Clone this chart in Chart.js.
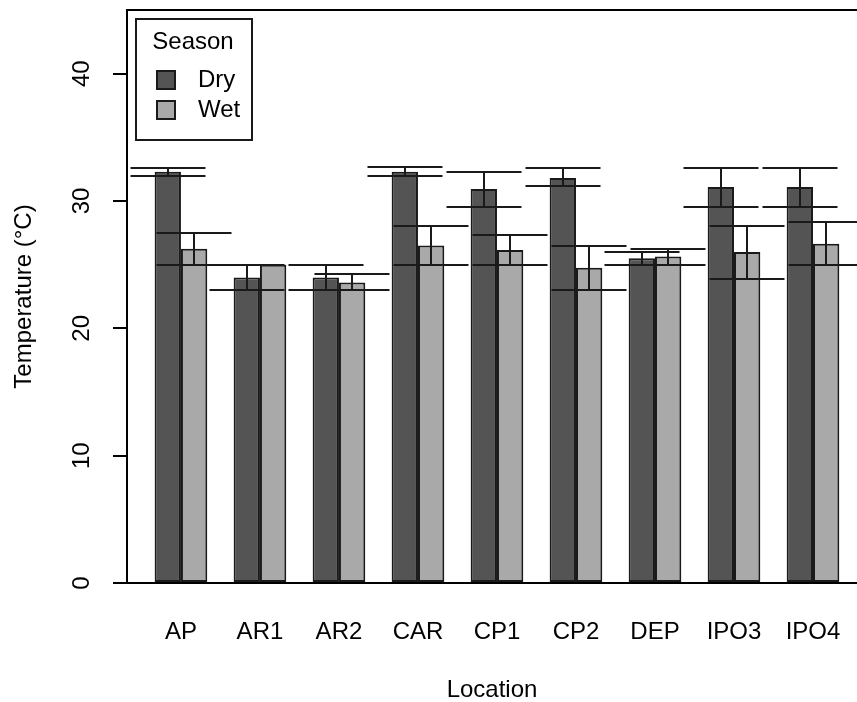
<!DOCTYPE html>
<html>
<head>
<meta charset="utf-8">
<script src="https://cdn.jsdelivr.net/npm/chart.js@4"></script>
<style>
    html, body { margin: 0; padding: 0; background: #fff; overflow: hidden; }
</style>
</head>
<body>
<canvas id="temps" width="857" height="702"></canvas>
<script>
// data (mean temperature and range per location)
var locations = ["AP", "AR1", "AR2", "CAR", "CP1", "CP2", "DEP", "IPO3", "IPO4"];
var dryMean = [32.3, 24.0, 24.0, 32.3, 30.95, 31.8, 25.5, 31.1, 31.1];
var dryLow = [32.0, 23.0, 23.0, 32.0, 29.55, 31.2, 25.0, 29.55, 29.55];
var dryHigh = [32.6, 25.0, 25.0, 32.7, 32.3, 32.6, 26.0, 32.6, 32.6];
var wetMean = [26.25, 25.0, 23.6, 26.5, 26.15, 24.75, 25.65, 26.0, 26.65];
var wetLow = [25.0, 25.0, 23.0, 25.0, 25.0, 23.0, 25.0, 23.9, 25.0];
var wetHigh = [27.5, 25.0, 24.25, 28.0, 27.35, 26.5, 26.25, 28.05, 28.35];
var yTicks = [0, 10, 20, 30, 40];

var FONT = "'Liberation Sans', Arial, sans-serif";
Chart.defaults.font.family = FONT;
Chart.defaults.color = "#000";

function points(values) {
    return values.map((v, i) => ({ x: i + 1, y: v }));
}

// fixed axis sizes, and no extra label padding pushed onto the plot area
function fixSize(prop, size) {
    return function (scale) {
        scale[prop] = size;
        scale.paddingTop = scale.paddingBottom = 0;
        scale.paddingLeft = scale.paddingRight = 0;
    };
}

// error bars with wide flat caps, like R arrows(angle = 90)
var errorBars = {
    id: "errorBars",
    afterDatasetsDraw: function (chart) {
        var ctx = chart.ctx;
        var y = chart.scales.y;
        var cap = 37.5;
        ctx.save();
        ctx.strokeStyle = "#1a1a1a";
        ctx.lineWidth = 2;
        chart.data.datasets.forEach(function (ds, i) {
            chart.getDatasetMeta(i).data.forEach(function (bar, j) {
                var lo = ds.low[j], hi = ds.high[j];
                if (hi - lo <= 0) return;
                var yl = Math.round(y.getPixelForValue(lo));
                var yh = Math.round(y.getPixelForValue(hi));
                var x = Math.round(bar.x);
                ctx.beginPath();
                ctx.moveTo(x, yl);
                ctx.lineTo(x, yh);
                ctx.moveTo(x - cap, yl);
                ctx.lineTo(x + cap, yl);
                ctx.moveTo(x - cap, yh);
                ctx.lineTo(x + cap, yh);
                ctx.stroke();
            });
        });
        ctx.restore();
    },
};

// top edge of the box + the legend in the top left corner
var boxAndLegend = {
    id: "boxAndLegend",
    afterDraw: function (chart) {
        var ctx = chart.ctx;
        var a = chart.chartArea;
        ctx.save();
        ctx.strokeStyle = "#000";
        ctx.lineWidth = 2;
        ctx.beginPath();
        ctx.moveTo(a.left - 1, a.top);
        ctx.lineTo(a.right, a.top);
        ctx.stroke();

        var bx = a.left + 9, by = a.top + 9;
        ctx.strokeStyle = "#1a1a1a";
        ctx.strokeRect(bx, by, 116, 121);
        ctx.fillStyle = "#000";
        ctx.font = "24px " + FONT;
        ctx.textBaseline = "middle";
        ctx.textAlign = "center";
        ctx.fillText("Season", bx + 57, by + 23);
        ctx.textAlign = "left";
        chart.data.datasets.forEach(function (ds, i) {
            var cy = by + 61 + i * 30;
            ctx.fillStyle = ds.backgroundColor;
            ctx.fillRect(bx + 21, cy - 9, 18, 18);
            ctx.strokeRect(bx + 21, cy - 9, 18, 18);
            ctx.fillStyle = "#000";
            ctx.fillText(ds.label, bx + 62, cy);
        });
        ctx.restore();
    },
};

var ctx = document.getElementById("temps").getContext("2d");
var chart = new Chart(ctx, {
    type: "bar",
    data: {
        datasets: [
            {
                label: "Dry",
                data: points(dryMean),
                low: dryLow,
                high: dryHigh,
                backgroundColor: "#545454",
                borderColor: "#1a1a1a",
                borderWidth: 2,
                borderSkipped: false,
            },
            {
                label: "Wet",
                data: points(wetMean),
                low: wetLow,
                high: wetHigh,
                backgroundColor: "#a9a9a9",
                borderColor: "#1a1a1a",
                borderWidth: 2,
                borderSkipped: false,
            },
        ],
    },
    options: {
        responsive: false,
        animation: false,
        devicePixelRatio: 1,
        categoryPercentage: 2 / 3,
        barPercentage: 1,
        layout: { padding: { top: 10, left: 0, right: 0, bottom: 0 } },
        plugins: {
            legend: { display: false },
            tooltip: { enabled: false },
        },
        scales: {
            x: {
                type: "linear",
                offset: false,
                min: 0.317,
                max: 9.557,
                afterBuildTicks: function (scale) {
                    scale.ticks = locations.map((_, i) => ({ value: i + 1 }));
                },
                afterFit: fixSize("height", 119),
                grid: { display: false, offset: false },
                border: { display: true, color: "#000", width: 2 },
                ticks: {
                    autoSkip: false,
                    maxRotation: 0,
                    padding: 27,
                    font: { size: 24 },
                    callback: function (v) {
                        return locations[Math.round(v) - 1];
                    },
                },
                title: {
                    display: true,
                    text: "Location",
                    font: { size: 24, lineHeight: 1 },
                    padding: { top: 0, bottom: 0 },
                },
            },
            y: {
                min: 0,
                max: 45,
                afterBuildTicks: function (scale) {
                    scale.ticks = yTicks.map((v) => ({ value: v }));
                },
                afterFit: fixSize("width", 127),
                grid: {
                    drawOnChartArea: false,
                    drawTicks: true,
                    tickLength: 14,
                    color: "#000",
                    lineWidth: 2,
                },
                border: { display: true, color: "#000", width: 2 },
                ticks: {
                    padding: 17,
                    minRotation: 90,
                    maxRotation: 90,
                    crossAlign: "center",
                    font: { size: 24 },
                },
                title: {
                    display: true,
                    text: "Temperature (°C)",
                    font: { size: 24, lineHeight: 1 },
                    padding: { top: 12, bottom: 0 },
                },
            },
        },
    },
    plugins: [errorBars, boxAndLegend],
});
</script>
</body>
</html>
